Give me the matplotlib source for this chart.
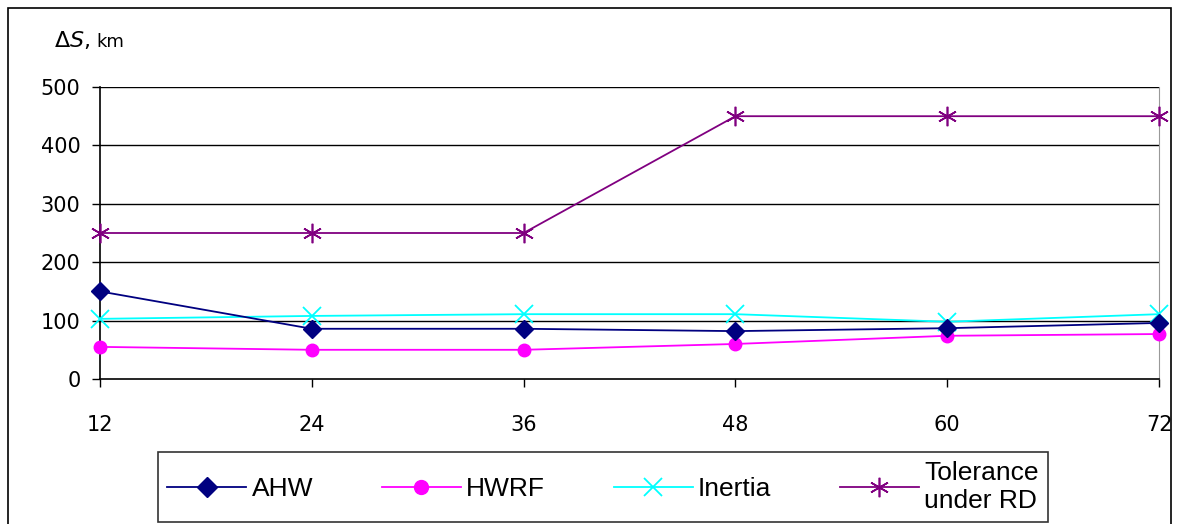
import matplotlib
matplotlib.use("Agg")
import matplotlib.pyplot as plt
from matplotlib.patches import Rectangle

hours = [12, 24, 36, 48, 60, 72]
ahw = [150, 86, 86, 82, 87, 96]
hwrf = [55, 50, 50, 60, 74, 77]
inertia = [103, 108, 111, 111, 98, 111]
tolerance = [250, 250, 250, 450, 450, 450]
yticks = [0, 100, 200, 300, 400, 500]

W, H = 1179, 524
fig = plt.figure(figsize=(W / 100, H / 100), dpi=100)
fig.patch.set_facecolor("white")

# outer frame
fig.add_artist(Rectangle((8 / W, -0.05), (1171 - 8) / W, (516 + 0.05 * H) / H,
                         transform=fig.transFigure, fill=False, edgecolor="black", lw=1.2))

ax = fig.add_axes([100 / W, 1 - 379 / H, (1159 - 100) / W, (379 - 87) / H])
ax.set_xlim(12, 72)
ax.set_ylim(0, 500)
ax.set_xticks(hours)
ax.set_yticks(yticks)
for y in yticks[1:]:
    ax.axhline(y, color="black", lw=1.0, zorder=1)
ax.spines["top"].set_visible(False)
ax.spines["right"].set_color("#999999")
ax.spines["left"].set_linewidth(1.2)
ax.spines["bottom"].set_linewidth(1.2)
ax.tick_params(axis="both", direction="out", length=6, width=1, labelsize=15, colors="black")
ax.tick_params(axis="x", pad=20)
ax.tick_params(axis="y", pad=8)
for lab in ax.get_xticklabels() + ax.get_yticklabels():
    lab.set_fontfamily("DejaVu Sans")

l1, = ax.plot(hours, ahw, color="#000080", marker="D", ms=9, lw=1.3, label="AHW", zorder=5, clip_on=False)
l2, = ax.plot(hours, hwrf, color="#FF00FF", marker="o", ms=9, lw=1.3, label="HWRF", zorder=4, clip_on=False)
l3, = ax.plot(hours, inertia, color="#00FFFF", marker="x", ms=13, mew=1.3, lw=1.3, label="Inertia", zorder=3, clip_on=False)
l4, = ax.plot(hours, tolerance, color="#800080", marker=(6, 2, 0), ms=14, mew=1.2, lw=1.3,
              label="Tolerance\nunder RD", zorder=3, clip_on=False)

fig.text(54 / W, 1 - 40 / H, "Δ$S$,", fontsize=16, ha="left", va="center", family="DejaVu Sans")
fig.text(96 / W, 1 - 42 / H, "km", fontsize=13, ha="left", va="center", family="DejaVu Sans")

leg = fig.legend(handles=[l1, l2, l3, l4], loc="lower left",
                 bbox_to_anchor=(158 / W, 1 - 522 / H, (1048 - 158) / W, (522 - 444) / H),
                 mode="expand", ncol=4, frameon=True, fancybox=False, handlelength=3.0,
                 prop={"family": "Liberation Sans", "size": 19}, borderaxespad=0,
                 handletextpad=0.2, columnspacing=1.5, borderpad=0.35)
leg.get_frame().set_edgecolor("black")
leg.get_frame().set_linewidth(1.2)
for h, s in zip(leg.legend_handles, [10, 10, 13, 14]):
    h.set_markersize(s)

fig.savefig("out.png", dpi=100)
